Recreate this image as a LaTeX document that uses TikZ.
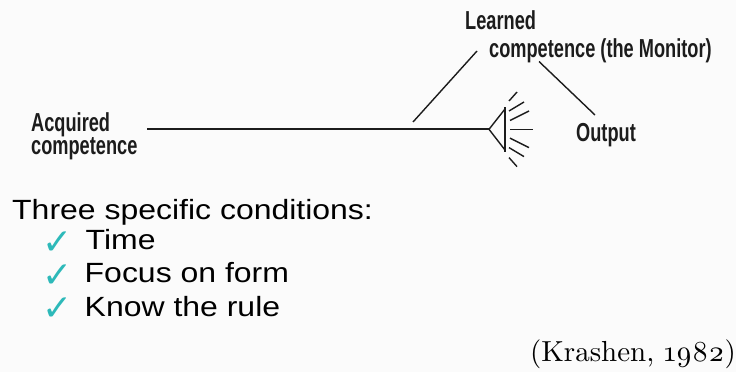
\documentclass[tikz,border=0pt]{standalone}
\usepackage{fontspec}
\newfontfamily\dfont[FakeStretch=0.70]{Liberation Sans}
\newfontfamily\bfont[FakeStretch=1.15]{Liberation Sans}
\newfontfamily\ckfont{DejaVu Sans}
\newfontfamily\kfont[Numbers=OldStyle]{lmroman10-regular.otf}
\newcommand\tightls{\lineskiplimit -30pt\relax}
\definecolor{bgc}{RGB}{251,251,251}
\definecolor{ink}{RGB}{28,28,28}
\definecolor{teal2}{RGB}{45,185,185}
\tikzset{
  lbl/.style={inner sep=0pt, anchor=base west, text=ink, font=\dfont\bfseries\fontsize{26}{30}\selectfont},
  body/.style={inner sep=0pt, anchor=base west, text=black, font=\bfont\fontsize{27.8}{33}\selectfont},
  tick/.style={inner sep=0pt, anchor=center, text=teal2, font=\ckfont\fontsize{36}{40}\selectfont},
  wire/.style={draw=ink, line width=1.4pt},
  mainwire/.style={draw=ink, line width=1.8pt},
}
\begin{document}
\begin{tikzpicture}[x=1pt,y=-1pt]
\fill[bgc] (0,0) rectangle (736,372);
\useasboundingbox (0,0) rectangle (736,372);

% labels
\node[lbl, anchor=north west, align=left,
      font={\dfont\bfseries\fontsize{26}{22.5}\selectfont\tightls}]
      (acq) at (31,112.9) {Acquired\\competence};
\node[lbl] (lrn1) at (465,29) {Learned};
\node[lbl] (lrn2) at (489,57) {competence (the Monitor)};
\node[lbl] (out) at (576,141) {Output};

% connectors
\coordinate (hs) at (147,129.3);
\coordinate (apex) at (489,129.3);
\coordinate (d1a) at (413,122);
\coordinate (d1b) at (477,51);
\coordinate (d2a) at (539,61.5);
\coordinate (d2b) at (595,115);
\draw[mainwire] (hs) -- (apex);
\draw[wire] (d1a) -- (d1b);
\draw[wire] (d2a) -- (d2b);

% speaker
\coordinate (tt) at (505,109);
\coordinate (tb) at (505,150);
\draw[wire, line join=miter] (tt) -- (apex) -- (tb);
\draw[wire] (505,107) -- (505,152);
\draw[wire] (509,101) -- (517,92);
\draw[wire] (509,111) -- (524,102);
\draw[wire] (510,120.5) -- (529,111);
\draw[wire] (510,129.3) -- (533,129.3);
\draw[wire] (510,138.1) -- (529,147.6);
\draw[wire] (509,147.6) -- (524,156.6);
\draw[wire] (509,157.6) -- (517,166.6);

% bottom text
\node[body] (head) at (12,219.3) {Three specific conditions:};
\node[tick] (c1) at (58,243) {✓};
\node[tick] (c2) at (58,276.3) {✓};
\node[tick] (c3) at (58,309.6) {✓};
\node[body] (i1) at (85.5,249.3) {Time};
\node[body] (i2) at (84.5,282.7) {Focus on form};
\node[body] (i3) at (84.5,316) {Know the rule};
\node[inner sep=0pt, anchor=base east, font=\kfont\fontsize{29}{34}\selectfont] (cite) at (736,361) {(Krashen, 1982)};
\end{tikzpicture}
\end{document}
